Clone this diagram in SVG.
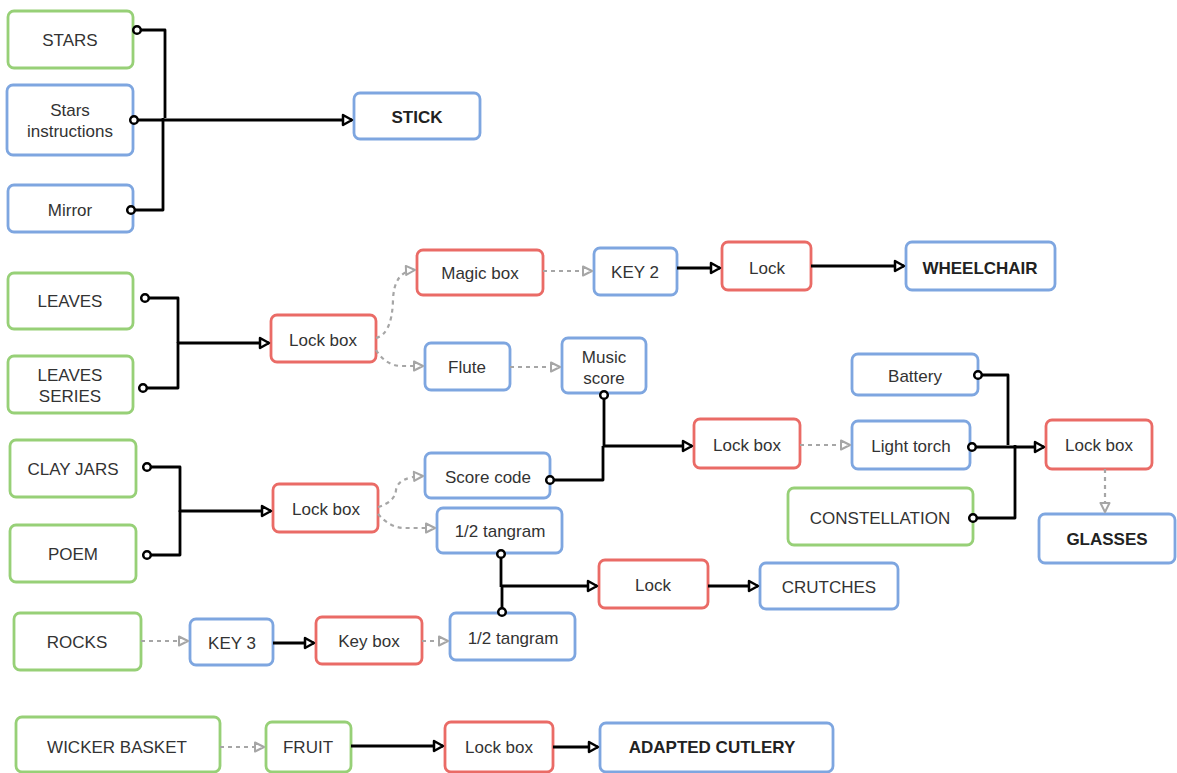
<svg xmlns="http://www.w3.org/2000/svg" width="1177" height="773" viewBox="0 0 1177 773">
<defs>
<style>
.n rect{fill:#fff;stroke-width:2.8;rx:6;ry:6}
.g rect{stroke:#97D077}
.b rect{stroke:#7EA6E0}
.r rect{stroke:#EA6B66}
text{font-family:"Liberation Sans",Arial,sans-serif;font-size:17px;fill:#333;text-anchor:middle;dominant-baseline:central}
.bold text{font-weight:bold;fill:#222}
.solid{fill:none;stroke:#000;stroke-width:2.8;stroke-linejoin:round}
.dash{fill:none;stroke:#A6A6A6;stroke-width:2.2;stroke-dasharray:4 4}
.sa{marker-end:url(#arr)}
.sd{marker-start:url(#dot)}
.da{marker-end:url(#garr)}
</style>
<marker id="arr" viewBox="0 0 14 14" refX="12" refY="7" markerWidth="14" markerHeight="14" orient="auto" markerUnits="userSpaceOnUse"><path d="M3,2 L12,7 L3,12 Z" fill="#fff" stroke="#000" stroke-width="2.5" stroke-linejoin="round"/></marker>
<marker id="garr" viewBox="0 0 14 14" refX="12" refY="7" markerWidth="14" markerHeight="14" orient="auto" markerUnits="userSpaceOnUse"><path d="M3,2.5 L12,7 L3,11.5 Z" fill="#fff" stroke="#A6A6A6" stroke-width="2" stroke-linejoin="round"/></marker>
<marker id="dot" viewBox="0 0 12 12" refX="6" refY="6" markerWidth="12" markerHeight="12" orient="auto" markerUnits="userSpaceOnUse"><circle cx="6" cy="6" r="3.8" fill="#fff" stroke="#000" stroke-width="2.5"/></marker>
</defs>
<rect width="1177" height="773" fill="#fff"/>
<g id="stars" class="n g"><rect x="8" y="11" width="125" height="57"/><text x="70" y="40">STARS</text></g>
<g id="stars-instructions" class="n b"><rect x="7" y="85" width="126" height="70"/><text x="70" y="110">Stars</text><text x="70" y="131">instructions</text></g>
<g id="mirror" class="n b"><rect x="8" y="185" width="125" height="47"/><text x="70" y="210">Mirror</text></g>
<g id="stick" class="n b bold"><rect x="354" y="93" width="126" height="46"/><text x="417" y="117">STICK</text></g>
<g id="leaves" class="n g"><rect x="8" y="273" width="125" height="56"/><text x="70" y="301">LEAVES</text></g>
<g id="leaves-series" class="n g"><rect x="8" y="356" width="125" height="57"/><text x="70" y="375">LEAVES</text><text x="70" y="396">SERIES</text></g>
<g id="lockbox1" class="n r"><rect x="271" y="315" width="105" height="47"/><text x="323" y="340">Lock box</text></g>
<g id="magicbox" class="n r"><rect x="417" y="250" width="126" height="45"/><text x="480" y="273">Magic box</text></g>
<g id="key2" class="n b"><rect x="594" y="248" width="83" height="47"/><text x="635" y="272">KEY 2</text></g>
<g id="lock1" class="n r"><rect x="722" y="242" width="89" height="48"/><text x="767" y="268">Lock</text></g>
<g id="wheelchair" class="n b bold"><rect x="906" y="242" width="149" height="48"/><text x="980" y="268">WHEELCHAIR</text></g>
<g id="flute" class="n b"><rect x="425" y="343" width="85" height="47"/><text x="467" y="367">Flute</text></g>
<g id="music-score" class="n b"><rect x="562" y="338" width="84" height="55"/><text x="604" y="357">Music</text><text x="604" y="378">score</text></g>
<g id="battery" class="n b"><rect x="852" y="354" width="126" height="41"/><text x="915" y="376">Battery</text></g>
<g id="lockbox2" class="n r"><rect x="694" y="419" width="106" height="49"/><text x="747" y="445">Lock box</text></g>
<g id="lighttorch" class="n b"><rect x="852" y="421" width="118" height="48"/><text x="911" y="446">Light torch</text></g>
<g id="lockbox3" class="n r"><rect x="1046" y="420" width="106" height="49"/><text x="1099" y="445">Lock box</text></g>
<g id="constellation" class="n g"><rect x="788" y="488" width="185" height="57"/><text x="880" y="518">CONSTELLATION</text></g>
<g id="glasses" class="n b bold"><rect x="1039" y="514" width="136" height="49"/><text x="1107" y="539">GLASSES</text></g>
<g id="clayjars" class="n g"><rect x="10" y="440" width="126" height="57"/><text x="73" y="469">CLAY JARS</text></g>
<g id="poem" class="n g"><rect x="10" y="525" width="126" height="57"/><text x="73" y="554">POEM</text></g>
<g id="lockbox4" class="n r"><rect x="273" y="484" width="105" height="48"/><text x="326" y="509">Lock box</text></g>
<g id="scorecode" class="n b"><rect x="425" y="453" width="125" height="45"/><text x="488" y="477">Score code</text></g>
<g id="tangram1" class="n b"><rect x="437" y="508" width="125" height="45"/><text x="500" y="531">1/2 tangram</text></g>
<g id="lock2" class="n r"><rect x="599" y="560" width="109" height="48"/><text x="653" y="585">Lock</text></g>
<g id="crutches" class="n b"><rect x="760" y="563" width="138" height="46"/><text x="829" y="587">CRUTCHES</text></g>
<g id="rocks" class="n g"><rect x="14" y="613" width="127" height="57"/><text x="77" y="642">ROCKS</text></g>
<g id="key3" class="n b"><rect x="190" y="619" width="83" height="46"/><text x="232" y="643">KEY 3</text></g>
<g id="keybox" class="n r"><rect x="316" y="617" width="106" height="47"/><text x="369" y="641">Key box</text></g>
<g id="tangram2" class="n b"><rect x="450" y="613" width="125" height="47"/><text x="513" y="638">1/2 tangram</text></g>
<g id="wickerbasket" class="n g"><rect x="16" y="717" width="204" height="55"/><text x="117" y="747">WICKER BASKET</text></g>
<g id="fruit" class="n g"><rect x="266" y="722" width="85" height="50"/><text x="308" y="747">FRUIT</text></g>
<g id="lockbox5" class="n r"><rect x="445" y="722" width="108" height="50"/><text x="499" y="747">Lock box</text></g>
<g id="adaptedcutlery" class="n b bold"><rect x="600" y="723" width="233" height="49"/><text x="712" y="747">ADAPTED CUTLERY</text></g>
<g id="connectors">
<path class="solid sd" d="M137,30 H165 V118"/>
<path class="solid sd sa" d="M134,120 H352"/>
<path class="solid sd" d="M131,210 H163 V118"/>
<path class="solid sd" d="M145,298 H178 V343"/>
<path class="solid sd sa" d="M143,388 H178 V343 H269"/>
<path class="dash da" d="M376,338 Q392,334 393,300 Q394,271 415,270"/>
<path class="dash da" d="M376,350 Q386,366 402,366 H423"/>
<path class="dash da" d="M543,271 H592"/>
<path class="solid sa" d="M677,268 H720"/>
<path class="solid sa" d="M811,266 H904"/>
<path class="dash da" d="M510,367 H560"/>
<path class="solid sd sa" d="M604,395 V446 H692"/>
<path class="solid sd" d="M550,480 H603 V446"/>
<path class="dash da" d="M800,445 H850"/>
<path class="solid sd" d="M978,375 H1008 V445"/>
<path class="solid sd sa" d="M972,447 H1044"/>
<path class="solid sd" d="M973,518 H1015 V445"/>
<path class="dash da" d="M1105,469 V512"/>
<path class="solid sd" d="M147,467 H180 V512"/>
<path class="solid sd sa" d="M147,555 H180 V511 H271"/>
<path class="dash da" d="M378,507 Q395,502 396,490 Q398,477 423,476"/>
<path class="dash da" d="M378,514 Q390,528 405,528 H435"/>
<path class="solid sd" d="M501,554 V587"/>
<path class="solid sd sa" d="M502,612 V586 H597"/>
<path class="solid sa" d="M708,586 H758"/>
<path class="dash da" d="M141,641 H188"/>
<path class="solid sa" d="M273,643 H314"/>
<path class="dash da" d="M422,641 H448"/>
<path class="dash da" d="M220,747 H264"/>
<path class="solid sa" d="M351,746 H443"/>
<path class="solid sa" d="M553,747 H598"/>
</g>
</svg>
